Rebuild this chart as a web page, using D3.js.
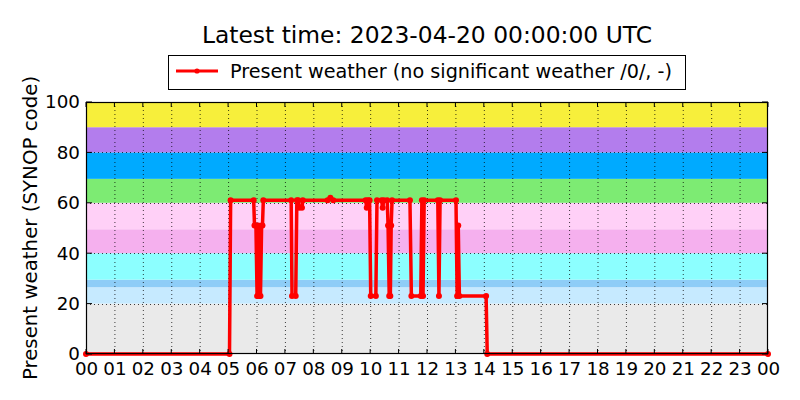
<!DOCTYPE html>
<html><head><meta charset="utf-8">
<script src="https://cdn.jsdelivr.net/npm/d3@7"></script>
<style>body{margin:0;background:#fff;} text{font-family:"DejaVu Sans",sans-serif;}</style>
</head><body><svg id="c" width="800" height="400"></svg>
<script>
// ---- data ----
const title = "Latest time: 2023-04-20 00:00:00 UTC";
const seriesName = "Present weather (no significant weather /0/, -)";
const yLabel = "Present weather (SYNOP code)";
const xTickLabels = ["00","01","02","03","04","05","06","07","08","09","10","11","12","13","14","15","16","17","18","19","20","21","22","23","00"];
const yTicks = [0,20,40,60,80,100];
// hours since 2023-04-19 00:00 UTC
const times = [0,5.05,5.09,5.90,5.93,5.98,6.02,6.06,6.10,6.14,6.18,6.21,6.24,7.22,7.25,7.38,7.42,7.47,7.50,7.60,7.63,8.50,8.60,8.70,9.84,9.88,9.92,9.98,10.02,10.20,10.24,10.40,10.44,10.48,10.60,10.63,10.67,10.71,10.74,10.77,11.40,11.45,11.78,11.82,11.86,11.90,12.38,12.42,12.46,13.02,13.06,13.10,13.14,14.08,14.12,24];
const values = [0,0,61,61,51,51,23,51,23,23,51,51,61,61,23,23,61,61,58,58,61,61,62,61,61,58,61,61,23,23,61,61,58,61,61,51,23,23,51,61,61,23,23,61,23,61,61,23,61,61,23,51,23,23,0,0];
// SYNOP code bands [from, to, color]
const bandFrom = [0,20,26.5,29.5,40,49.5,60,69.5,80,90];
const bandTo   = [20,26.5,29.5,40,49.5,60,69.5,80,90,100];
const bandColors = ["#eaeaea","#c6eaff","#8ecdf7","#8cffff","#f5b0ee","#ffd0f7","#7deb73","#00aaff","#b37ded","#f7ef3b"];

// ---- layout ----
const svg = d3.select("#c");
const L = 86, R = 768, T = 102, B = 354;
const x = d3.scaleLinear().domain([0,24]).range([L,R]);
const y = d3.scaleLinear().domain([0,100]).range([B,T]);

// bands
svg.append("g").selectAll("rect").data(bandFrom).join("rect")
  .attr("x", L).attr("width", R-L)
  .attr("y", (d,i)=>y(bandTo[i])).attr("height",(d,i)=>y(bandFrom[i])-y(bandTo[i]))
  .attr("fill",(d,i)=>bandColors[i]);

// grid
const grid = svg.append("g").attr("stroke","#000").attr("stroke-width",1).attr("stroke-dasharray","1,3").attr("opacity",0.75);
grid.selectAll("line.v").data(d3.range(1,24)).join("line")
  .attr("x1",d=>x(d)+0.5).attr("x2",d=>x(d)+0.5).attr("y1",T).attr("y2",B);
grid.selectAll("line.h").data(yTicks.slice(1,-1)).join("line")
  .attr("y1",d=>Math.round(y(d))+0.5).attr("y2",d=>Math.round(y(d))+0.5).attr("x1",L).attr("x2",R);

// series
const pts = times.map((t,i)=>[t,values[i]]);
svg.append("path").datum(pts)
  .attr("d", d3.line().x(d=>x(d[0])).y(d=>y(d[1])))
  .attr("fill","none").attr("stroke","#ff0000").attr("stroke-width",3.5).attr("stroke-linejoin","round");
svg.append("g").selectAll("circle").data(pts).join("circle")
  .attr("cx",d=>x(d[0])).attr("cy",d=>y(d[1])).attr("r",3).attr("fill","#ff0000");

// frame
svg.append("rect").attr("x",L+0.5).attr("y",T+0.5).attr("width",R-L-1).attr("height",B-T-1)
  .attr("fill","none").attr("stroke","#000").attr("stroke-width",1.2);

// ticks (inward, classic)
const xAxis = d3.axisBottom(x).tickValues(d3.range(0,25)).tickFormat((d,i)=>xTickLabels[i]).tickSize(0).tickPadding(8);
const gx = svg.append("g").attr("transform",`translate(0,${B})`).call(xAxis);
gx.select(".domain").remove();
gx.selectAll("text").attr("font-size",18.3).attr("font-family","DejaVu Sans").attr("fill","#000");
const yAxis = d3.axisLeft(y).tickValues(yTicks).tickSize(0).tickPadding(6);
const gy = svg.append("g").attr("transform",`translate(${L},0)`).call(yAxis);
gy.select(".domain").remove();
gy.selectAll("text").attr("font-size",18.3).attr("font-family","DejaVu Sans").attr("fill","#000");

const tk = svg.append("g").attr("stroke","#000").attr("stroke-width",1);
tk.selectAll("line.xb").data(d3.range(0,25)).join("line")
  .attr("x1",d=>x(d)).attr("x2",d=>x(d)).attr("y1",B).attr("y2",B-5);
tk.selectAll("line.xt").data(d3.range(0,25)).join("line")
  .attr("x1",d=>x(d)).attr("x2",d=>x(d)).attr("y1",T).attr("y2",T+5);
tk.selectAll("line.yl").data(yTicks).join("line")
  .attr("y1",d=>y(d)).attr("y2",d=>y(d)).attr("x1",L).attr("x2",L+6);
tk.selectAll("line.yr").data(yTicks).join("line")
  .attr("y1",d=>y(d)).attr("y2",d=>y(d)).attr("x1",R).attr("x2",R-6);

// title
svg.append("text").attr("x",(L+R)/2).attr("y",43).attr("text-anchor","middle")
  .attr("font-size",23.4).text(title);

// y label
svg.append("text").attr("transform",`translate(37,${(T+B)/2}) rotate(-90)`).attr("text-anchor","middle")
  .attr("font-size",19.8).text(yLabel);

// legend
const lg = svg.append("g");
lg.append("rect").attr("x",168.5).attr("y",55.5).attr("width",517).attr("height",34)
  .attr("fill","#fff").attr("stroke","#000").attr("stroke-width",1);
lg.append("line").attr("x1",176).attr("x2",218).attr("y1",71).attr("y2",71)
  .attr("stroke","#ff0000").attr("stroke-width",3);
lg.append("circle").attr("cx",197).attr("cy",71).attr("r",2.6).attr("fill","#ff0000");
lg.append("text").attr("x",230).attr("y",78).attr("font-size",19.2).text(seriesName);
</script></body></html>
